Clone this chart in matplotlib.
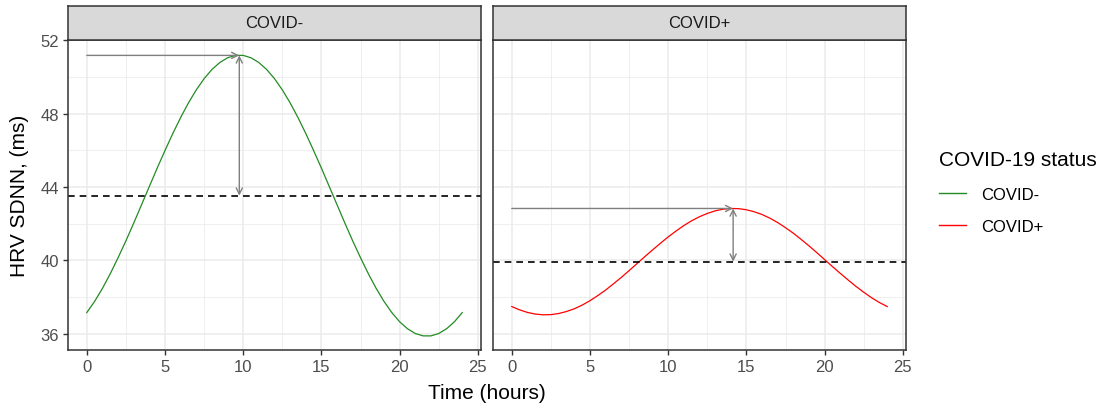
import matplotlib
matplotlib.use("Agg")
import matplotlib.pyplot as plt
from matplotlib.lines import Line2D
from matplotlib.ticker import MultipleLocator

plt.rcParams['font.family'] = ['Liberation Sans', 'DejaVu Sans']

# fitted cosinor curves, every half hour
hours = [i / 2 for i in range(49)]
sdnn_neg = [37.15, 37.76, 38.47, 39.27, 40.14, 41.06, 42.03, 43.03, 44.03, 45.03, 45.99, 46.92, 47.79,
            48.59, 49.30, 49.91, 50.41, 50.79, 51.05, 51.18, 51.18, 51.05, 50.79, 50.41, 49.91, 49.30,
            48.59, 47.79, 46.92, 45.99, 45.03, 44.03, 43.03, 42.03, 41.06, 40.14, 39.27, 38.47, 37.76,
            37.15, 36.65, 36.27, 36.01, 35.88, 35.88, 36.01, 36.27, 36.65, 37.15]
sdnn_pos = [37.48, 37.30, 37.16, 37.07, 37.03, 37.04, 37.10, 37.21, 37.36, 37.56, 37.80, 38.08, 38.38,
            38.72, 39.07, 39.44, 39.82, 40.20, 40.57, 40.93, 41.28, 41.60, 41.90, 42.16, 42.38, 42.56,
            42.70, 42.79, 42.83, 42.82, 42.76, 42.65, 42.50, 42.30, 42.06, 41.78, 41.48, 41.14, 40.79,
            40.42, 40.04, 39.66, 39.29, 38.93, 38.58, 38.26, 37.96, 37.70, 37.48]

groups = ['COVID-', 'COVID+']
curves = [sdnn_neg, sdnn_pos]
colors = ['#228B22', '#FF0000']
mesor = [43.53, 39.93]
peak = [51.18, 42.83]
acrophase = [9.75, 14.15]

fig = plt.figure(figsize=(11.02, 4.06), dpi=100)
W, H = 1102, 406
panels = [(68, 481), (493, 906)]
top_px, bot_px, strip_px = 41, 351, 7

for k, (x0, x1) in enumerate(panels):
    ax = fig.add_axes([x0 / W, (H - bot_px) / H, (x1 - x0) / W, (bot_px - top_px) / H])
    ax.set_xlim(-1.2, 25.2)
    ax.set_ylim(35.11, 52.02)
    ax.xaxis.set_major_locator(MultipleLocator(5))
    ax.xaxis.set_minor_locator(MultipleLocator(2.5))
    ax.yaxis.set_major_locator(MultipleLocator(4))
    ax.yaxis.set_minor_locator(MultipleLocator(2))
    ax.grid(which='major', color='#EBEBEB', linewidth=1.1)
    ax.grid(which='minor', color='#EBEBEB', linewidth=0.55)
    ax.set_axisbelow(True)
    for s in ax.spines.values():
        s.set_color('#333333')
        s.set_linewidth(1.1)
    ax.tick_params(which='major', length=3.5, width=1, color='#333333', labelsize=12, labelcolor='#4D4D4D', pad=3)
    ax.tick_params(which='minor', length=0)
    if k == 1:
        ax.tick_params(axis='y', which='both', left=False, labelleft=False)

    ax.plot(hours, curves[k], color=colors[k], linewidth=0.9)
    ax.axhline(mesor[k], color='black', linestyle=(0, (4, 3)), linewidth=1.2)
    arr = dict(color='#7F7F7F', lw=1.0, shrinkA=0, shrinkB=0, mutation_scale=11)
    ax.annotate('', xy=(acrophase[k], peak[k]), xytext=(0, peak[k]), arrowprops=dict(arrowstyle='->', **arr))
    ax.annotate('', xy=(acrophase[k], mesor[k]), xytext=(acrophase[k], peak[k]), arrowprops=dict(arrowstyle='<->', **arr))

    # facet strip
    sax = fig.add_axes([x0 / W, (H - top_px) / H, (x1 - x0) / W, (top_px - strip_px) / H])
    sax.set_facecolor('#D9D9D9')
    sax.set_xticks([])
    sax.set_yticks([])
    for s in sax.spines.values():
        s.set_color('#333333')
        s.set_linewidth(1.1)
    sax.text(0.5, 0.5, groups[k], ha='center', va='center', fontsize=12, color='#1A1A1A', transform=sax.transAxes)

fig.text(487 / W, 1 - 394 / H, 'Time (hours)', ha='center', va='center', fontsize=15)
fig.text(20 / W, 1 - 196 / H, 'HRV SDNN, (ms)', ha='center', va='center', rotation=90, fontsize=15)

handles = [Line2D([], [], color=c, linewidth=1.0) for c in colors]
fig.legend(handles, groups, title='COVID-19 status', loc='upper left', bbox_to_anchor=(924 / W, 1 - 136 / H),
           frameon=False, fontsize=12, title_fontsize=15, alignment='left', handlelength=1.6,
           handletextpad=0.9, labelspacing=1.05)

plt.savefig('out.png', dpi=100)
